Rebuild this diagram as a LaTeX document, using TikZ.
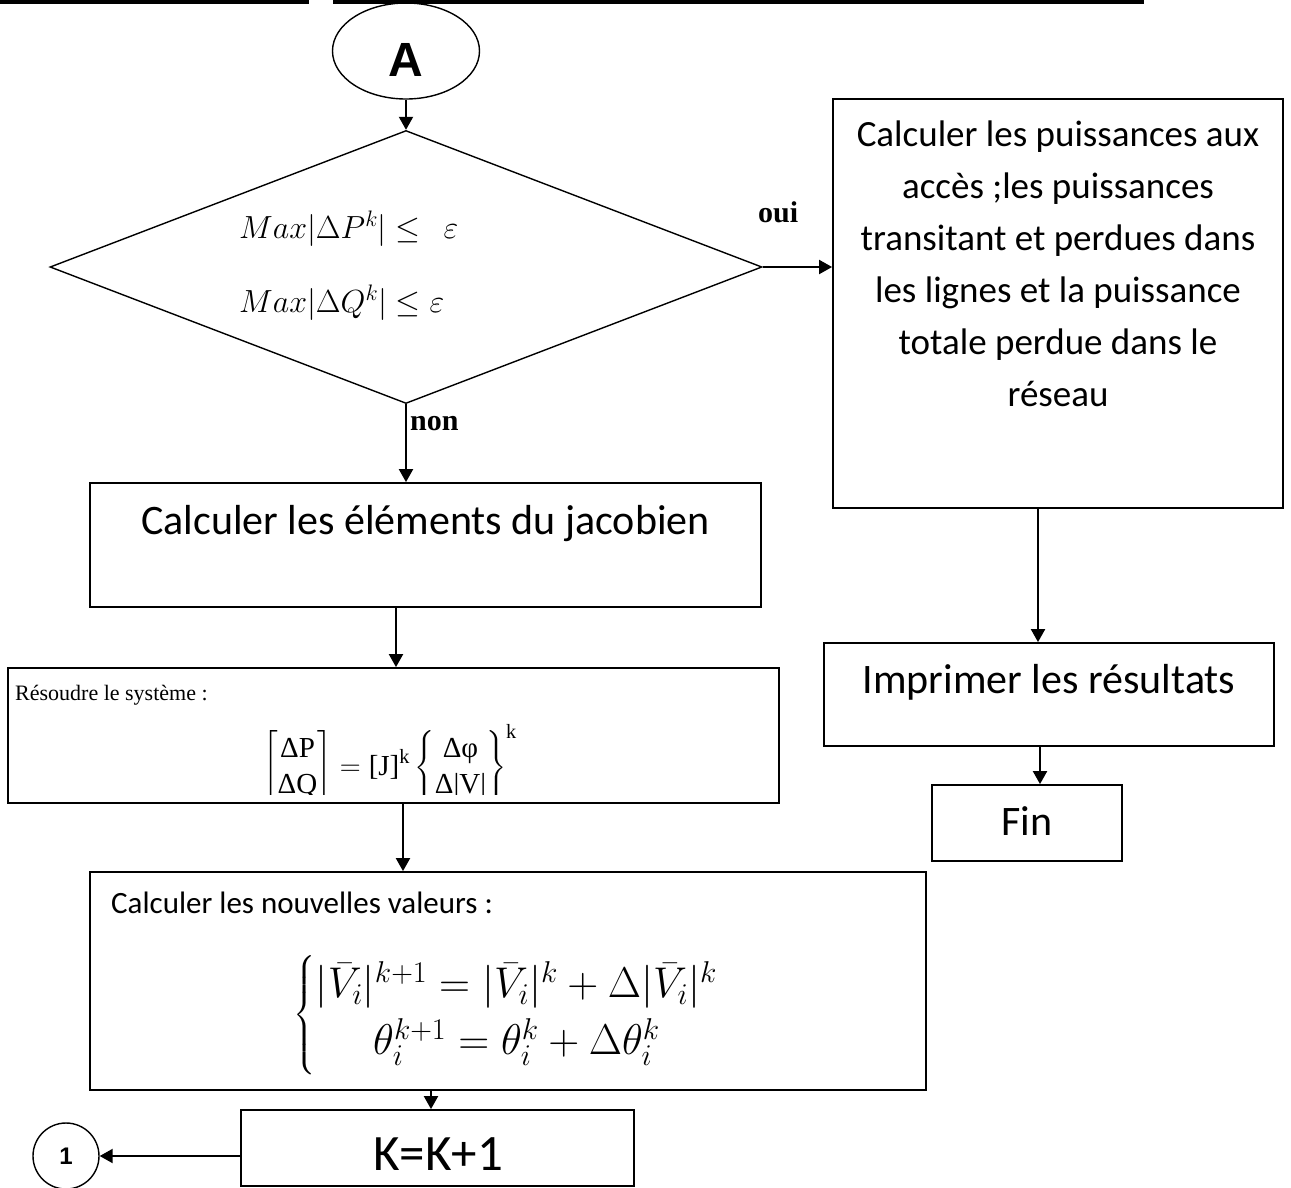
\RequirePackage{fix-cm}
\documentclass[tikz,border=0pt]{standalone}
\usepackage{amsmath}
\usepackage[no-math]{fontspec}
\setmainfont{Liberation Serif}
\newfontfamily\calib{Carlito}
\newfontfamily\arialf{Liberation Sans}
\usetikzlibrary{shapes.geometric,arrows.meta}

\begin{document}
\begin{tikzpicture}[x=1pt,y=-1pt,
  box/.style={draw,line width=1.8pt,rectangle,inner sep=0pt},
  thin/.style={draw,line width=1.4pt,inner sep=0pt},
  arr/.style={line width=2pt,-{Triangle[length=13pt,width=14pt]}},
  lbl/.style={inner sep=0pt},
  yesno/.style={lbl,anchor=base west,font=\bfseries\fontsize{30}{34}\selectfont},
  condtxt/.style={lbl,anchor=base west,font=\fontsize{32}{36}\selectfont},
  bigtxt/.style={lbl,anchor=base,font=\calib\fontsize{42}{48}\selectfont}]
\useasboundingbox (0,0) rectangle (1291,1187);

% header rules
\draw[line width=3.5pt] (0,1.75) -- (309,1.75);
\draw[line width=3.5pt] (333,1.75) -- (1144,1.75);

% connector columns
\coordinate (xa) at (396,0);
\coordinate (xb) at (403,0);
\coordinate (xc) at (431,0);
\coordinate (xd) at (1038,0);
\coordinate (xe) at (1040,0);

% start connector
\node[thin,ellipse,minimum width=147pt,minimum height=96pt] (A) at (406,51) {};
\node[lbl,font=\arialf\bfseries\fontsize{48}{50}\selectfont] (Atxt) at (406,60) {A};

% convergence test
\node[thin,diamond,minimum width=712pt,minimum height=273pt] (dia) at (406,267) {};
\node[condtxt] (cp) at (239,238) {$Max|\Delta P^{k}| \leq\;\, \varepsilon$};
\node[condtxt] (cq) at (239,312) {$Max|\Delta Q^{k}| \leq \varepsilon$};
\node[yesno] (oui) at (758,222) {oui};
\node[yesno] (non) at (410,430) {non};

% results branch
\node[box,minimum width=450pt,minimum height=409pt] (res) at (1058,303.5) {};
\node[lbl,anchor=base,font=\calib\fontsize{37}{52}\selectfont] (restxt) at (1058,146)
  {\begin{tabular}[t]{@{}c@{}}Calculer les puissances aux\\ accès ;les puissances\\
   transitant et perdues dans\\ les lignes et la puissance\\ totale perdue dans le\\
   réseau\end{tabular}};
\node[box,minimum width=450pt,minimum height=103pt] (imp) at (1049,694.5) {};
\node[bigtxt] (imptxt) at (1049,693) {Imprimer les résultats};
\node[box,minimum width=190pt,minimum height=76pt] (fin) at (1027,823) {};
\node[bigtxt] (fintxt) at (1027,835) {Fin};

% Jacobian
\node[box,minimum width=671pt,minimum height=124pt] (jac) at (425.5,545) {};
\node[bigtxt] (jactxt) at (425.5,534) {Calculer les éléments du jacobien};

% linear system
\node[box,minimum width=771pt,minimum height=135pt] (sys) at (393.5,735.5) {};
\node[lbl,anchor=base west,font=\fontsize{22}{26}\selectfont] (systxt) at (15,700)
  {Résoudre le système :};
\begin{scope}
  \clip (8,668) rectangle (779,794);
  \node[lbl,font=\fontsize{29}{36}\selectfont] (syseq) at (390,765)
    {$\left[\begin{matrix}\text{ΔP}\\ \text{ΔQ}\end{matrix}\right] = \text{[J]}^{\text{k}}
      \left\{\begin{matrix}\text{Δφ}\\ \text{Δ|V|}\end{matrix}\right\}^{\text{k}}$};
\end{scope}

% update
\node[box,minimum width=836pt,minimum height=218pt] (nv) at (508,981) {};
\node[lbl,anchor=base west,font=\calib\fontsize{31}{36}\selectfont] (nvtxt) at (111,913)
  {Calculer les nouvelles valeurs :};
\node[lbl,font=\fontsize{43}{57}\selectfont] (nveq) at (506,1015)
  {$\left\{\begin{array}{@{}c@{}}
    |\bar{V}_i|^{k+1} = |\bar{V}_i|^{k} + \Delta|\bar{V}_i|^{k}\\
    \theta_i^{k+1} = \theta_i^{k} + \Delta\theta_i^{k}
   \end{array}\right.$};

% iteration counter and loop connector
\node[box,minimum width=393pt,minimum height=76pt] (kb) at (437.5,1148) {};
\node[lbl,anchor=base,font=\calib\fontsize{51}{56}\selectfont] (kbtxt) at (438,1170) {K=K+1};
\node[thin,circle,minimum size=66pt,font=\arialf\bfseries\fontsize{24}{26}\selectfont]
  (c1) at (66,1156) {1};

% connectors
\draw[arr] (A.south) -- (dia.north);
\draw[arr] (dia.east) -- (dia.east -| res.west);
\draw[arr] (dia.south) -- (dia.south |- jac.north);
\draw[arr] (jac.south -| xa) -- (sys.north -| xa);
\draw[arr] (sys.south -| xb) -- (nv.north -| xb);
\draw[arr] (nv.south -| xc) -- (kb.north -| xc);
\draw[arr] (kb.west |- c1) -- (c1);
\draw[arr] (res.south -| xd) -- (imp.north -| xd);
\draw[arr] (imp.south -| xe) -- (fin.north -| xe);
\end{tikzpicture}
\end{document}
